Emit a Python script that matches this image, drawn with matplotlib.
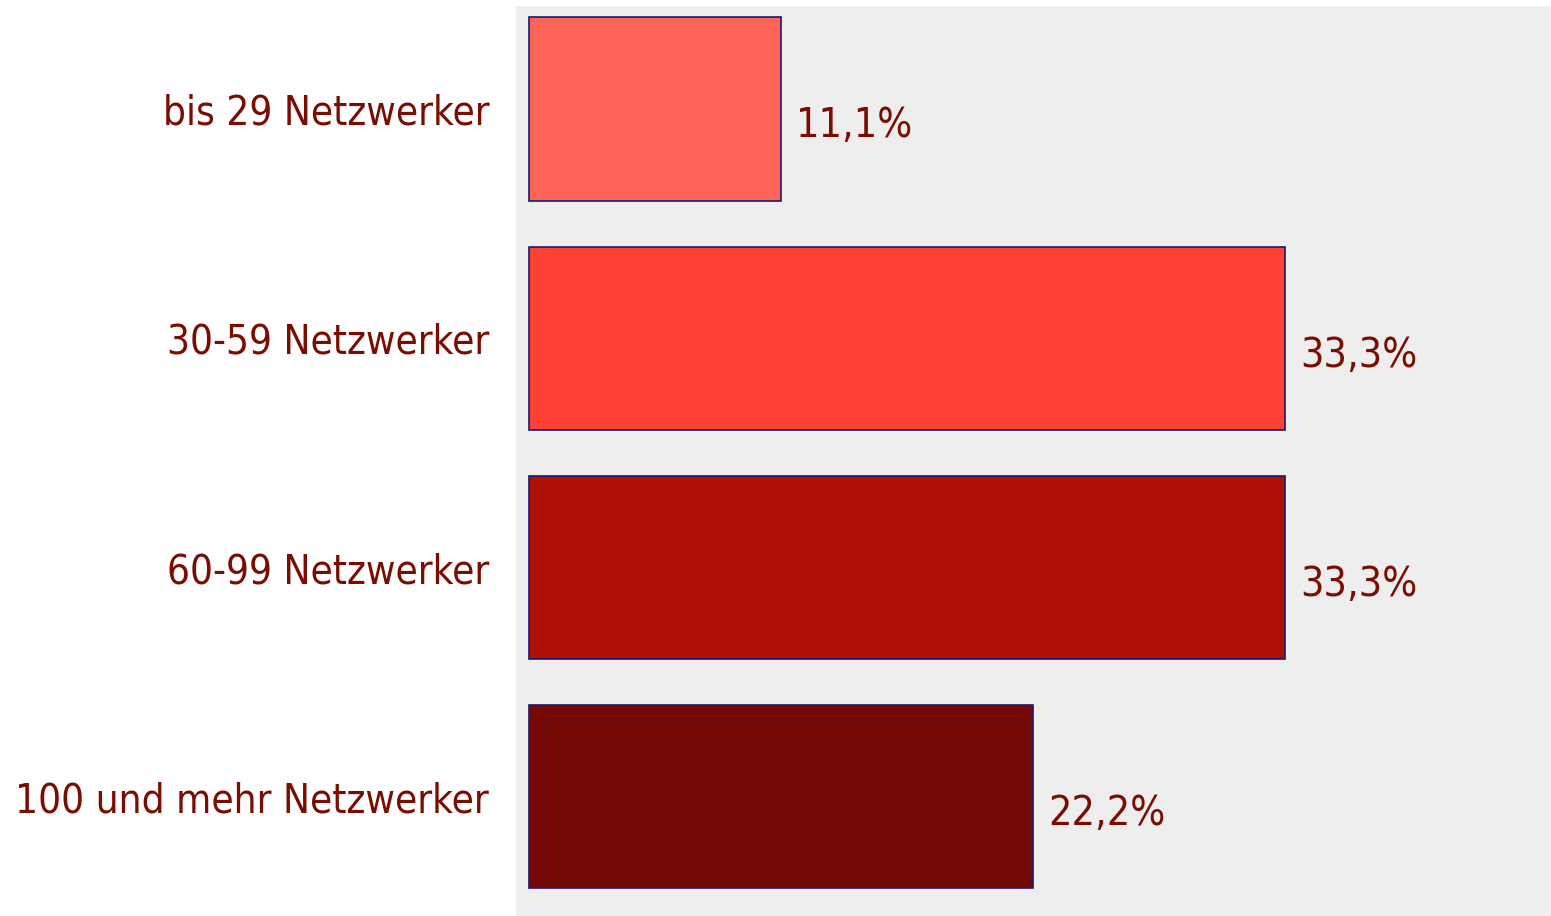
import matplotlib
matplotlib.use("Agg")
import matplotlib.pyplot as plt
from matplotlib import font_manager as fm

categories = ["bis 29 Netzwerker", "30-59 Netzwerker", "60-99 Netzwerker", "100 und mehr Netzwerker"]
values = [11.1, 33.3, 33.3, 22.2]
value_labels = ["11,1%", "33,3%", "33,3%", "22,2%"]
bar_colors = ["#ff6459", "#ff4034", "#ae1005", "#740802"]

# pick a condensed sans font if available
cond = None
for f in fm.fontManager.ttflist:
    n = f.fname.lower()
    if ("narrow" in n or "condensed" in n) and "bold" not in n and "oblique" not in n and "italic" not in n:
        if "liberation" in n:
            cond = f.fname
            break
        if cond is None and "dejavusans" in n.replace("-", "") and "mono" not in n:
            cond = f.fname
if cond is not None:
    fprop = fm.FontProperties(fname=cond, size=29.5)
    fprop_cat = fm.FontProperties(fname=cond, size=29)
else:
    fprop = fm.FontProperties(family="Liberation Sans", size=28)
    fprop_cat = fm.FontProperties(family="Liberation Sans", size=27)

text_color = "#7a0c00"

fig = plt.figure(figsize=(15.51, 9.16), dpi=100)
ax = fig.add_axes([516/1551, 0, 1 - 516/1551, 1 - 6/916])
ax.set_facecolor("#eeeeee")
y = list(range(len(categories)))
ax.barh(y, values, height=0.8, color=bar_colors, edgecolor="#1a1a6e", linewidth=1.2)
ax.set_xlim(-0.57, 45)
ax.set_ylim(3.52, -0.45)
for s in ax.spines.values():
    s.set_visible(False)
ax.set_xticks([])
ax.set_yticks([])

for yi, v, lab in zip(y, values, value_labels):
    ax.text(v + 0.65, yi + 0.075, lab, ha="left", va="center",
            color=text_color, fontproperties=fprop)

for yi, cat in zip(y, categories):
    ax.text(-1.75, yi + 0.02, cat, ha="right", va="center",
            color=text_color, fontproperties=fprop_cat, clip_on=False)

fig.savefig("out.png", dpi=100)
